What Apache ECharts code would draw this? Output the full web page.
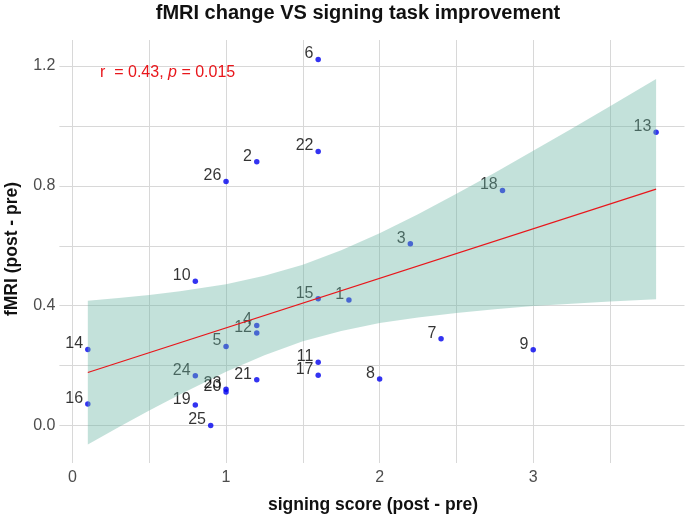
<!DOCTYPE html>
<html><head><meta charset="utf-8">
<script src="https://cdn.jsdelivr.net/npm/echarts@6/dist/echarts.min.js"></script>
<style>html,body{margin:0;padding:0;background:#fff}#c{width:685px;height:518px}</style>
</head><body><div id="c"></div>
<script>
// ---- data ----
const ids          = [1, 2, 3, 4, 5, 6, 7, 8, 9, 10, 11, 12, 13, 14, 15, 16, 17, 18, 19, 20, 21, 22, 23, 24, 25, 26];
const signingScore = [1.8, 1.2, 2.2, 1.2, 1.0, 1.6, 2.4, 2.0, 3.0, 0.8, 1.6, 1.2, 3.8, 0.1, 1.6, 0.1, 1.6, 2.8, 0.8, 1.0, 1.2, 1.6, 1.0, 0.8, 0.9, 1.0];
const fmriChange   = [0.419, 0.881, 0.607, 0.334, 0.264, 1.222, 0.290, 0.155, 0.253, 0.482, 0.211, 0.309, 0.979, 0.254, 0.423, 0.072, 0.168, 0.785, 0.069, 0.112, 0.153, 0.915, 0.121, 0.166, 0.0, 0.815];
const bandX     = [0.1, 0.3, 0.5, 0.7, 1.0, 1.25, 1.5, 1.75, 2.0, 2.25, 2.5, 2.75, 3.0, 3.25, 3.5, 3.8];
const bandLower = [-0.063, -0.006, 0.050, 0.104, 0.180, 0.235, 0.281, 0.316, 0.342, 0.361, 0.376, 0.388, 0.399, 0.407, 0.414, 0.422];
const bandUpper = [0.417, 0.426, 0.436, 0.448, 0.472, 0.500, 0.537, 0.585, 0.642, 0.705, 0.774, 0.844, 0.917, 0.991, 1.066, 1.157];
const fitX = [0.1, 3.8];
const fitY = [0.177, 0.789];
const xTickLabels = [0, 1, 2, 3];
const yTickLabels = [0, 0.4, 0.8, 1.2];
const xGridLines  = [0, 0.5, 1, 1.5, 2, 2.5, 3, 3.5];
const yGridLines  = [0, 0.2, 0.4, 0.6, 0.8, 1.0, 1.2];

const chart = echarts.init(document.getElementById('c'), null, {renderer: 'canvas'});
const FONT = 'Liberation Sans, Arial, sans-serif';
const gridColor = '#d8d8d8';

const points = ids.map((id, i) => [signingScore[i], fmriChange[i], id]);

const option = {
  animation: false,
  backgroundColor: '#ffffff',
  grid: {left: 59.4, right: 0.5, top: 40, bottom: 55, containLabel: false},
  xAxis: {
    type: 'value', min: -0.085, max: 3.985,
    axisLine: {show: false},
    axisTick: {show: false, customValues: xGridLines},
    splitLine: {show: true, lineStyle: {color: gridColor, width: 1}},
    axisLabel: {customValues: xTickLabels, color: '#4d4d4d', fontFamily: FONT, fontSize: 16, margin: 7,
      formatter: v => String(v)}
  },
  yAxis: {
    type: 'value', min: -0.125, max: 1.287,
    axisLine: {show: false},
    axisTick: {show: false, customValues: yGridLines},
    splitLine: {show: true, lineStyle: {color: gridColor, width: 1}},
    axisLabel: {customValues: yTickLabels, color: '#4d4d4d', fontFamily: FONT, fontSize: 16, margin: 4,
      formatter: v => v.toFixed(1)}
  },
  series: [
    {
      type: 'scatter', z: 2,
      data: points,
      symbol: 'circle', symbolSize: 5.5,
      itemStyle: {color: '#0000ee'},
      label: {
        show: true, position: 'left', distance: 2, offset: [0, -5.5],
        formatter: p => String(p.data[2]),
        color: '#000', fontFamily: FONT, fontSize: 16
      },
      silent: true
    },
    {
      type: 'custom', z: 3, silent: true, clip: true,
      data: [[bandX[0], bandLower[0]]],
      renderItem: (params, api) => {
        const pts = [];
        for (let i = 0; i < bandX.length; i++) pts.push(api.coord([bandX[i], bandUpper[i]]));
        for (let i = bandX.length - 1; i >= 0; i--) pts.push(api.coord([bandX[i], bandLower[i]]));
        return {type: 'polygon', shape: {points: pts}, style: {fill: '#69b3a2', opacity: 0.4}};
      }
    },
    {
      type: 'line', z: 4, silent: true,
      data: fitX.map((x, i) => [x, fitY[i]]),
      symbol: 'none',
      lineStyle: {color: '#e8161b', width: 1.2}
    }
  ],
  graphic: [
    {type: 'text', z: 10, style: {x: 358, y: 13, text: 'fMRI change VS signing task improvement',
      font: 'bold 20px ' + FONT, fill: '#111', align: 'center', verticalAlign: 'middle'}},
    {type: 'text', z: 10, style: {x: 373, y: 505, text: 'signing score (post - pre)',
      font: 'bold 17.5px ' + FONT, fill: '#111', align: 'center', verticalAlign: 'middle'}},
    {type: 'text', z: 10, x: 12, y: 249, rotation: Math.PI / 2,
      style: {x: 0, y: 0, text: 'fMRI (post - pre)',
      font: 'bold 17.5px ' + FONT, fill: '#111', align: 'center', verticalAlign: 'middle'}},
    {type: 'text', z: 10, style: {x: 100, y: 73, verticalAlign: 'middle', align: 'left',
      text: '{a|r  = 0.43, }{b|p}{a| = 0.015}',
      rich: {
        a: {fontFamily: FONT, fontSize: 16, fill: '#e8161b', color: '#e8161b'},
        b: {fontFamily: FONT, fontSize: 16, fontStyle: 'italic', fill: '#e8161b', color: '#e8161b'}
      }}}
  ]
};
chart.setOption(option);
</script>
</body></html>
